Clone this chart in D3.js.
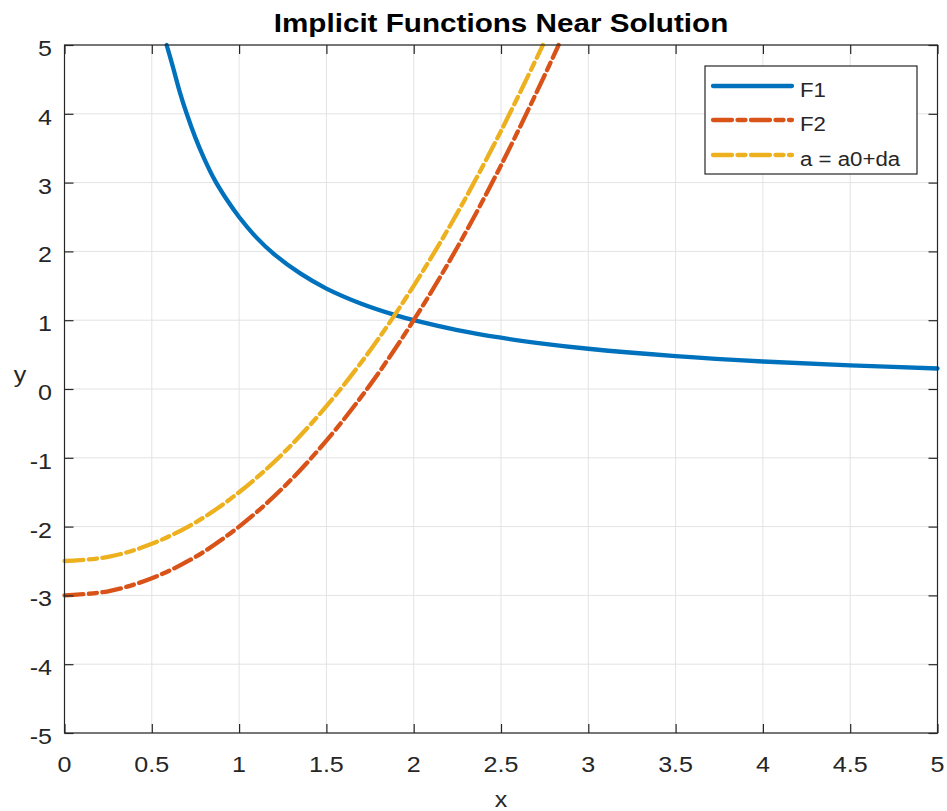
<!DOCTYPE html>
<html>
<head>
<meta charset="utf-8">
<script src="https://cdnjs.cloudflare.com/ajax/libs/d3/7.8.5/d3.min.js"></script>
<style>
  body { margin: 0; background: #fff; }
  text { font-family: "Liberation Sans", Arial, Helvetica, sans-serif; fill: #262626; }
</style>
</head>
<body>
<div id="chart"></div>
<script>
// values
const xTicks = [0, 0.5, 1, 1.5, 2, 2.5, 3, 3.5, 4, 4.5, 5];
const yTicks = [-5, -4, -3, -2, -1, 0, 1, 2, 3, 4, 5];

const f1X = [0.585, 0.62, 0.66, 0.70, 0.75, 0.80, 0.86, 0.93, 1.0, 1.1, 1.2, 1.35, 1.5, 1.7, 1.9, 2.0, 2.25, 2.5, 2.75, 3.0, 3.5, 4.0, 4.5, 5.0];
const f1Y = [5.0, 4.69, 4.32, 4.0, 3.65, 3.35, 3.04, 2.75, 2.5, 2.2, 1.96, 1.68, 1.46, 1.24, 1.07, 1.0, 0.856, 0.745, 0.657, 0.585, 0.478, 0.40, 0.343, 0.298];

const f2X = [0, 0.25, 0.5, 0.75, 1, 1.25, 1.5, 1.75, 2, 2.25, 2.5, 2.75, 2.83];
const f2Y = [-3, -2.94, -2.75, -2.44, -2, -1.44, -0.75, 0.06, 1, 2.06, 3.25, 4.56, 5.0];

const f3X = [0, 0.25, 0.5, 0.75, 1, 1.25, 1.5, 1.75, 2, 2.25, 2.5, 2.74];
const f3Y = [-2.5, -2.44, -2.25, -1.94, -1.5, -0.94, -0.25, 0.56, 1.5, 2.56, 3.75, 5.0];

const seriesNames = ["F1", "F2", "a = a0+da"];
const seriesColors = ["#0072BD", "#D95319", "#EDB120"];

const width = 947, height = 811;
const pLeft = 64.5, pRight = 937.5, pTop = 45, pBottom = 733;
const stretch = 1.14; // glyphs in the picture are a bit wider than Arial

const x = d3.scaleLinear().domain([0, 5]).range([pLeft, pRight]);
const y = d3.scaleLinear().domain([-5, 5]).range([pBottom, pTop]);

const svg = d3.select("#chart").append("svg")
    .attr("width", width)
    .attr("height", height);

function widen(sel) {
  sel.each(function() {
    const w = this.getComputedTextLength();
    d3.select(this).attr("textLength", w * stretch).attr("lengthAdjust", "spacingAndGlyphs");
  });
}

// grid
svg.append("g").selectAll("line")
    .data(xTicks).join("line")
    .attr("x1", d => x(d)).attr("x2", d => x(d))
    .attr("y1", pTop).attr("y2", pBottom)
    .attr("stroke", "#e3e3e3").attr("stroke-width", 1);
svg.append("g").selectAll("line")
    .data(yTicks).join("line")
    .attr("y1", d => y(d)).attr("y2", d => y(d))
    .attr("x1", pLeft).attr("x2", pRight)
    .attr("stroke", "#e3e3e3").attr("stroke-width", 1);

// curves
svg.append("clipPath").attr("id", "clip")
    .append("rect").attr("x", pLeft - 3).attr("y", pTop - 3)
    .attr("width", pRight - pLeft + 6).attr("height", pBottom - pTop + 6);

const line = d3.line()
    .x(d => x(d[0])).y(d => y(d[1]))
    .curve(d3.curveCatmullRom.alpha(0.5));

const series = [
  d3.zip(f1X, f1Y),
  d3.zip(f2X, f2Y),
  d3.zip(f3X, f3Y)
];
const dashes = [null, "19 5.5 8 5.5", "19 5.5 8 5.5"];

const plot = svg.append("g").attr("clip-path", "url(#clip)");
series.forEach((s, i) => {
  plot.append("path")
      .attr("d", line(s))
      .attr("fill", "none")
      .attr("stroke", seriesColors[i])
      .attr("stroke-width", 4.3)
      .attr("stroke-linecap", "round")
      .attr("stroke-linejoin", "round")
      .attr("stroke-dasharray", dashes[i]);
});

// axes box and ticks
const axisG = svg.append("g");
axisG.append("rect")
    .attr("x", pLeft).attr("y", pTop)
    .attr("width", pRight - pLeft).attr("height", pBottom - pTop)
    .attr("fill", "none").attr("stroke", "#262626").attr("stroke-width", 1.2);

const xAxisB = d3.axisBottom(x).tickValues(xTicks).tickSize(-9).tickFormat("");
const xAxisT = d3.axisTop(x).tickValues(xTicks).tickSize(-9).tickFormat("");
const yAxisL = d3.axisLeft(y).tickValues(yTicks).tickSize(-9).tickFormat("");
const yAxisR = d3.axisRight(y).tickValues(yTicks).tickSize(-9).tickFormat("");

[[xAxisB, "translate(0," + pBottom + ")"], [xAxisT, "translate(0," + pTop + ")"],
 [yAxisL, "translate(" + pLeft + ",0)"], [yAxisR, "translate(" + pRight + ",0)"]].forEach(a => {
  const g = axisG.append("g").attr("transform", a[1]).call(a[0]);
  g.select(".domain").remove();
  g.selectAll("line").attr("stroke", "#262626").attr("stroke-width", 1.2);
});

// tick labels
svg.append("g").selectAll("text")
    .data(xTicks).join("text")
    .attr("x", d => x(d)).attr("y", 772)
    .attr("text-anchor", "middle")
    .style("font-size", "22px")
    .text(d => d)
    .call(widen);

svg.append("g").selectAll("text")
    .data(yTicks).join("text")
    .attr("x", 52).attr("y", d => y(d) + 11)
    .attr("text-anchor", "end")
    .style("font-size", "22px")
    .text(d => d)
    .call(widen);

// axis labels and title
svg.append("text")
    .attr("x", 501).attr("y", 807)
    .attr("text-anchor", "middle")
    .style("font-size", "22px")
    .text("x").call(widen);

svg.append("text")
    .attr("x", 20).attr("y", 382)
    .attr("text-anchor", "middle")
    .style("font-size", "22px")
    .text("y").call(widen);

svg.append("text")
    .attr("x", 501).attr("y", 32)
    .attr("text-anchor", "middle")
    .style("font-size", "26px")
    .style("font-weight", "bold")
    .style("fill", "#000")
    .text("Implicit Functions Near Solution").call(widen);

// legend
const legend = svg.append("g");
legend.append("rect")
    .attr("x", 705).attr("y", 66)
    .attr("width", 212).attr("height", 108)
    .attr("fill", "#fff").attr("stroke", "#262626").attr("stroke-width", 1.2);

const rowY = [86, 120, 155];
seriesNames.forEach((name, i) => {
  legend.append("line")
      .attr("x1", 713).attr("x2", 792)
      .attr("y1", rowY[i]).attr("y2", rowY[i])
      .attr("stroke", seriesColors[i])
      .attr("stroke-width", 4.3)
      .attr("stroke-linecap", "round")
      .attr("stroke-dasharray", dashes[i]);
  legend.append("text")
      .attr("x", 800).attr("y", rowY[i] + 10.5)
      .style("font-size", "19.5px")
      .text(name).call(widen);
});
</script>
</body>
</html>
